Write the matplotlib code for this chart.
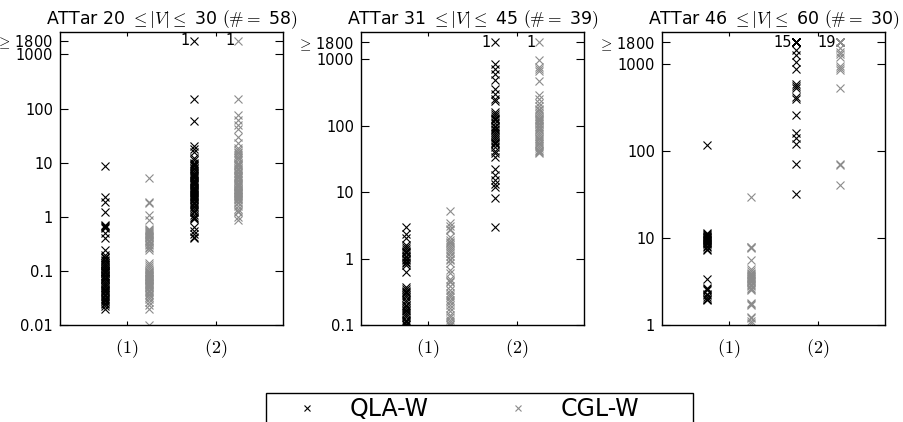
import numpy as np
import matplotlib
matplotlib.use('Agg')
import matplotlib.pyplot as plt
from matplotlib.patches import Rectangle

plt.rcParams['font.family'] = 'DejaVu Sans'
plt.rcParams['mathtext.fontset'] = 'cm'

# values >= CAP are not listed, only counted (drawn at CAP with the count next to it)
CAP = 1800

titles = [r'ATTar 20 $\leq |V| \leq$ 30 $(\# =$ 58$)$',
          r'ATTar 31 $\leq |V| \leq$ 45 $(\# =$ 39$)$',
          r'ATTar 46 $\leq |V| \leq$ 60 $(\# =$ 30$)$']
group_labels = [r'$(1)$', r'$(2)$']
series_names = ['QLA-W', 'CGL-W']

# ---- 20 <= |V| <= 30
qla_p1_g1 = [8.8, 2.3, 1.9, 1.2, 0.72, 0.68, 0.65, 0.62, 0.5, 0.4, 0.24, 0.2,
             0.18, 0.17, 0.16, 0.15, 0.14, 0.14, 0.13, 0.13, 0.12, 0.12, 0.11, 0.11,
             0.1, 0.1, 0.1, 0.095, 0.09, 0.09, 0.085, 0.08, 0.08, 0.075, 0.07, 0.07,
             0.065, 0.06, 0.06, 0.055, 0.055, 0.05, 0.05, 0.047, 0.045, 0.042, 0.04,
             0.038, 0.036, 0.034, 0.032, 0.03, 0.029, 0.028, 0.026, 0.024, 0.022, 0.02]
qla_p1_g2 = [150, 60, 20, 18, 16, 12, 11, 10, 9.5, 9, 8.5, 8, 7.5, 7, 6.5, 6.2, 6,
             5.7, 5.4, 5.1, 4.8, 4.6, 4.4, 4.2, 4, 3.8, 3.6, 3.4, 3.2, 3.1, 3, 2.9,
             2.8, 2.6, 2.5, 2.4, 2.3, 2.2, 2.1, 2, 1.9, 1.8, 1.7, 1.6, 1.5, 1.4, 1.3,
             1.2, 1.1, 1.0, 0.95, 0.9, 0.65, 0.55, 0.48, 0.42, 0.4]
cgl_p1_g1 = [5.2, 1.9, 1.8, 1.1, 0.88, 0.6, 0.57, 0.55, 0.52, 0.5, 0.48, 0.46, 0.44,
             0.42, 0.4, 0.38, 0.36, 0.34, 0.32, 0.3, 0.28, 0.26, 0.24, 0.14, 0.13,
             0.12, 0.11, 0.1, 0.095, 0.09, 0.088, 0.085, 0.082, 0.08, 0.078, 0.075,
             0.072, 0.07, 0.068, 0.065, 0.062, 0.06, 0.058, 0.055, 0.052, 0.05, 0.048,
             0.045, 0.042, 0.04, 0.038, 0.036, 0.033, 0.03, 0.027, 0.023, 0.02, 0.01]
cgl_p1_g2 = [150, 77, 62, 50, 42, 30, 23, 19, 17, 16, 15, 14, 13, 12, 11, 10, 9.5, 9,
             8.5, 8, 7.6, 7.2, 6.8, 6.4, 6, 5.7, 5.4, 5.1, 4.8, 4.5, 4.3, 4.1, 3.9,
             3.7, 3.5, 3.3, 3.2, 3.1, 3, 2.9, 2.8, 2.7, 2.6, 2.5, 2.4, 2.3, 2.2, 2.1,
             2.0, 1.9, 1.8, 1.6, 1.4, 1.3, 1.2, 1.0, 0.88]

# ---- 31 <= |V| <= 45
qla_p2_g1 = [3.0, 2.3, 2.0, 1.6, 1.5, 1.4, 1.3, 1.25, 1.2, 1.1, 1.05, 1.0, 0.95, 0.9,
             0.85, 0.8, 0.62, 0.37, 0.35, 0.33, 0.31, 0.3, 0.28, 0.26, 0.24, 0.22, 0.2,
             0.19, 0.18, 0.17, 0.16, 0.15, 0.14, 0.13, 0.12, 0.115, 0.11, 0.105, 0.1]
qla_p2_g2 = [830, 700, 600, 490, 350, 300, 250, 230, 160, 150, 140, 130, 125, 120,
             110, 100, 95, 90, 85, 80, 75, 70, 65, 60, 57, 55, 52, 48, 42, 38, 34, 22,
             18, 15, 13, 12, 8, 3.0]
cgl_p2_g1 = [5.1, 3.4, 3.1, 2.8, 2.7, 2.1, 1.9, 1.8, 1.7, 1.6, 1.5, 1.4, 1.3, 1.2, 1.1,
             1.0, 0.95, 0.87, 0.68, 0.6, 0.5, 0.46, 0.44, 0.38, 0.34, 0.3, 0.28, 0.26,
             0.24, 0.22, 0.2, 0.18, 0.16, 0.14, 0.13, 0.12, 0.11, 0.105, 0.1]
cgl_p2_g2 = [980, 770, 700, 650, 460, 290, 250, 220, 200, 180, 170, 160, 150, 140,
             130, 125, 120, 115, 110, 105, 100, 95, 90, 85, 80, 75, 70, 66, 62, 58, 55,
             52, 49, 46, 43, 41, 40, 39]

# ---- 46 <= |V| <= 60
qla_p3_g1 = [117, 11.4, 11, 10.8, 10.6, 10.4, 10.2, 10, 10, 9.8, 9.6, 9.4, 9.2, 9,
             8.8, 8.5, 8.2, 7.8, 7.5, 7.3, 3.4, 2.7, 2.6, 2.5, 2.3, 2.2, 2.1, 2.0,
             2.0, 1.95]
qla_p3_g2 = [1450, 1270, 1050, 890, 600, 560, 540, 420, 400, 260, 160, 140, 120, 72, 32]
cgl_p3_g1 = [29.6, 8.0, 7.9, 7.7, 5.6, 4.4, 4.2, 4.0, 3.9, 3.8, 3.7, 3.6, 3.5, 3.4,
             3.3, 3.2, 3.1, 3.0, 2.9, 2.8, 2.7, 2.6, 2.5, 1.8, 1.75, 1.7, 1.25, 1.2,
             1.1, 1.05]
cgl_p3_g2 = [1550, 1400, 1300, 1200, 950, 900, 850, 540, 72, 70, 41]

# how many runs hit the cap, per panel and group
qla_capped = [[0, 1], [0, 1], [0, 15]]
cgl_capped = [[0, 1], [0, 1], [0, 19]]

qla = [[qla_p1_g1, qla_p1_g2], [qla_p2_g1, qla_p2_g2], [qla_p3_g1, qla_p3_g2]]
cgl = [[cgl_p1_g1, cgl_p1_g2], [cgl_p2_g1, cgl_p2_g2], [cgl_p3_g1, cgl_p3_g2]]

ylims = [(0.01, 2600), (0.1, 2550), (1, 2350)]
yticks = [[0.01, 0.1, 1, 10, 100, 1000, 1800],
          [0.1, 1, 10, 100, 1000, 1800],
          [1, 10, 100, 1000, 1800]]


def tick_text(v):
    if v == CAP:
        return r'$\geq\,$1800'
    return ('%g' % v)


W, H = 904, 422
fig = plt.figure(figsize=(W / 100, H / 100), dpi=100)
lefts = [60, 361, 662]

styles = [dict(color='black'), dict(color='0.55')]
handles = []

for p in range(3):
    ax = fig.add_axes([lefts[p] / W, 1 - 325 / H, 223 / W, 293 / H])
    ax.set_yscale('log')

    for s, (data, capped) in enumerate([(qla, qla_capped), (cgl, cgl_capped)]):
        for g in range(2):
            xpos = g + 1 + (s - 0.5) * 0.5
            vals = data[p][g]
            ln, = ax.plot(np.full(len(vals), xpos), vals, 'x', ms=5.5, mew=0.8,
                          linestyle='none', **styles[s])
            n = capped[p][g]
            if n > 0:
                ax.plot(np.full(n, xpos), np.full(n, CAP), 'x', ms=5.5, mew=0.8,
                        linestyle='none', **styles[s])
                ax.annotate(str(n), (xpos, CAP), xytext=(-3, 0),
                            textcoords='offset points', ha='right', va='center',
                            fontsize=10.5)
            if p == 0 and g == 0:
                handles.append(ln)

    ax.set_xlim(0.25, 2.75)
    ax.set_ylim(*ylims[p])
    ax.set_xticks([1, 2])
    ax.set_xticklabels(group_labels, fontsize=13)
    ax.set_yticks(yticks[p])
    ax.set_yticklabels([tick_text(v) for v in yticks[p]], fontsize=10.5)
    ax.minorticks_off()
    ax.tick_params(axis='y', direction='in', length=6, width=0.8,
                   left=True, right=True, pad=5)
    ax.tick_params(axis='x', direction='in', length=3, width=0.8,
                   top=True, bottom=True, pad=9)
    for sp in ax.spines.values():
        sp.set_linewidth(1.0)
    ax.set_title(titles[p], fontsize=12.5, pad=6)

# legend without frame, box drawn by hand so that it runs off the bottom
fig.legend(handles, series_names, loc='upper left',
           bbox_to_anchor=(295 / W, 1 - 397 / H), ncol=2, frameon=False,
           fontsize=17, handlelength=1.0, handletextpad=1.3, columnspacing=3.3,
           borderpad=0, borderaxespad=0, markerscale=0.8)
fig.patches.append(Rectangle((266 / W, -0.1), 427 / W, 0.1 + 1 - 393 / H,
                             transform=fig.transFigure, fill=False,
                             edgecolor='black', linewidth=1.0))

fig.savefig('out.png', dpi=100)
